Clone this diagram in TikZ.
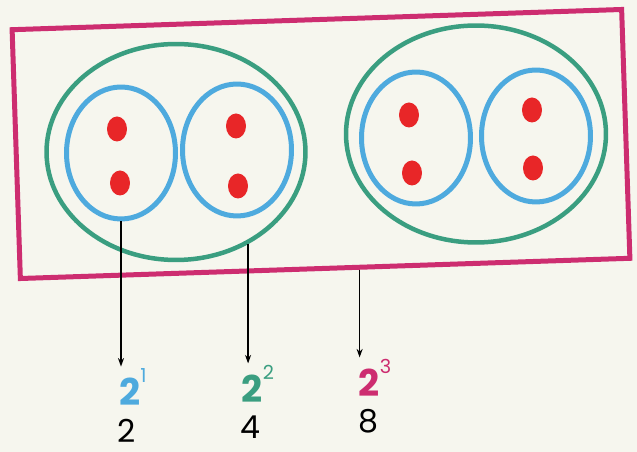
\documentclass[tikz,border=0pt]{standalone}
\usepackage{fontspec}
\setmainfont{Poppins}
\usetikzlibrary{arrows.meta,positioning,shapes.geometric,calc}
\definecolor{setpink}{RGB}{205,45,112}
\definecolor{setgreen}{RGB}{58,158,128}
\definecolor{setblue}{RGB}{78,170,222}
\definecolor{setred}{RGB}{232,38,40}
\definecolor{paper}{RGB}{246,246,238}
\tikzset{
 frame/.style={rectangle,draw=setpink,line width=0.1cm,minimum width=12.2cm,minimum height=4.98cm,inner sep=0pt},
 bigset/.style={ellipse,draw=setgreen,line width=0.09cm,minimum width=5.18cm,minimum height=4.32cm,inner sep=0pt},
 pairset/.style={ellipse,draw=setblue,line width=0.1cm,minimum width=2.18cm,minimum height=2.64cm,inner sep=0pt},
 dot/.style={ellipse,fill=setred,minimum width=0.4cm,minimum height=0.5cm,inner sep=0pt},
 power/.style={font=\fontsize{21}{21}\selectfont\bfseries,inner sep=1pt,text depth=0pt},
 value/.style={font=\fontsize{18}{18}\selectfont,inner sep=0pt,text depth=0pt},
 arrow/.style={-{Stealth[length=1.7mm,width=1.2mm]},line width=0.8pt,draw=black}}
\newcommand{\pw}[1]{2\raisebox{1.1ex}{\fontsize{11}{11}\selectfont\mdseries #1}}

\begin{document}
\begin{tikzpicture}[x=0.02cm,y=-0.02cm]
\useasboundingbox[fill=paper] (0,0) rectangle (637,452);
\node[frame,rotate=1.9] (box) at (321,144) {};
% two sets of four
\node[bigset] (g1) at (176,152) {};
\node[bigset,minimum width=5.2cm,minimum height=4.34cm] (g2) at (476,134) {};
\node[pairset] (b1) at (121,153) {}; \node[pairset] (b2) at (237,150) {};
\node[pairset] (b3) at (416,138) {}; \node[pairset] (b4) at (536,136) {};
\node[dot] (d1) at (117,129) {}; \node[dot] (d2) at (120,183) {};
\node[dot] (d3) at (236,126) {}; \node[dot] (d4) at (238,186) {};
\node[dot] (d5) at (409,115) {}; \node[dot] (d6) at (412,173) {};
\node[dot] (d7) at (532,110) {}; \node[dot] (d8) at (533,168) {};
% labels
\node[power,text=setblue] (p1) at (133,387) {\pw{1}};
\node[power,text=setgreen] (p2) at (258,384) {\pw{2}};
\node[power,text=setpink] (p3) at (375,378) {\pw{3}};
\node[value] (v1) at (127,431) {2};
\node[value] (v2) at (250,427) {4};
\node[value] (v3) at (368,421) {8};
\coordinate (c3) at ($(box.south west)!0.556!(box.south east)$);
\draw[arrow] (b1.south) -- (b1.south |- p1.north);
\draw[arrow] (g1.-52) -- (g1.-52 |- p2.north);
\draw[arrow] (c3) -- (c3 |- p3.north);
\end{tikzpicture}
\end{document}
